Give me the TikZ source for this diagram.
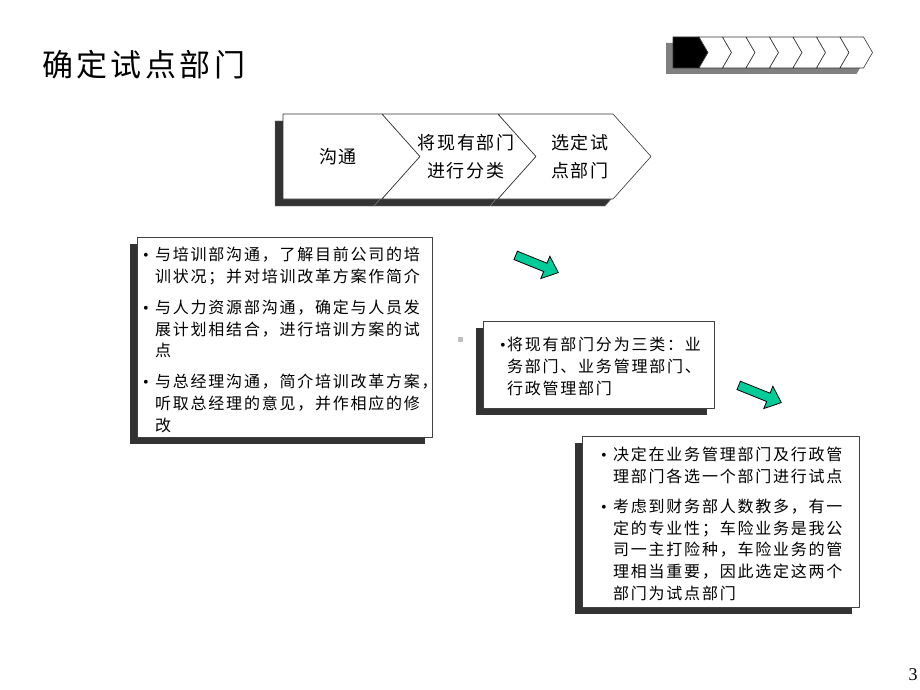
\documentclass[tikz,border=0pt]{standalone}
\usepackage{fontspec}
\setmainfont[LetterSpace=11]{Noto Sans CJK SC}
\newfontfamily\numfont{Liberation Serif}
\usetikzlibrary{shadows}

\definecolor{arrowgreen}{RGB}{0,204,153}
\definecolor{shadowgray}{RGB}{51,51,51}

\newcommand\bulitem{\makebox[12pt][l]{\numfont •}}
\newcommand\contline{\hspace*{12pt}}

\tikzset{
  textbox/.style={draw=black!75, fill=white, line width=0.8pt, anchor=north west, inner sep=0,
    drop shadow={shadow xshift=-7pt, shadow yshift=-7pt, fill=shadowgray, opacity=1}},
  boxtext/.style={anchor=north west, inner sep=0, align=left, font=\fontsize{16}{21.7}\selectfont},
  chevron/.style={draw=black!80, fill=white, line width=0.6pt},
  chevshadow/.style={draw=black!50, fill=shadowgray, line width=0.4pt},
  greenarrow/.style={draw=black, fill=arrowgreen, line width=0.8pt, line join=miter},
}

\begin{document}
\begin{tikzpicture}[line join=round,x=1pt,y=-1pt]
\useasboundingbox[fill=white] (0,0) rectangle (920,690);

% title
\node[anchor=west, inner sep=0, font=\fontsize{31}{36}\selectfont] (title) at (42,65) {确定试点部门};

% small progress bar, top right
\foreach \i in {0,...,7}
  \fill[black!50, shift={(-7,6)}] (673+23.5*\i,37) -- (699+23.5*\i,37) -- (708+23.5*\i,52.5)
    -- (699+23.5*\i,68) -- (673+23.5*\i,68) -- cycle;
\draw[fill=black, draw=black!80, line width=0.6pt] (673,37) -- (699,37) -- (708,52.5) -- (699,68) -- (673,68) -- cycle;
\foreach \i [evaluate=\i as \l using 699+23.5*(\i-1), evaluate=\i as \r using 699+23.5*\i] in {1,...,7}
  \draw[chevron] (\l,37) -- (\r,37) -- (\r+9,52.5) -- (\r,68) -- (\l,68) -- (\l+9,52.5) -- cycle;

% process bar
\begin{scope}[shift={(-8,7)}]
\draw[chevshadow] (283,114) -- (382,114) -- (420,156.5) -- (382,199) -- (283,199) -- cycle;
\draw[chevshadow] (382,114) -- (498,114) -- (536,156.5) -- (498,199) -- (382,199) -- (420,156.5) -- cycle;
\draw[chevshadow] (498,114) -- (613,114) -- (651,156.5) -- (613,199) -- (498,199) -- (536,156.5) -- cycle;
\end{scope}
\draw[chevron] (283,114) -- (382,114) -- (420,156.5) -- (382,199) -- (283,199) -- cycle;
\draw[chevron] (382,114) -- (498,114) -- (536,156.5) -- (498,199) -- (382,199) -- (420,156.5) -- cycle;
\draw[chevron] (498,114) -- (613,114) -- (651,156.5) -- (613,199) -- (498,199) -- (536,156.5) -- cycle;
\node[font=\fontsize{18}{28}\selectfont] (talk) at (338,157) {沟通};
\node[font=\fontsize{18}{28}\selectfont, align=center] (classify) at (466,157) {将现有部门\\进行分类};
\node[font=\fontsize{18}{28}\selectfont, align=center] (select) at (580,157) {选定试\\点部门};

% left box
\node[textbox, minimum width=295, minimum height=200] (trainbox) at (137,237) {};
\node[boxtext] (traintext) at (143,247) {%
\bulitem 与培训部沟通，了解目前公司的培\\
\contline 训状况；并对培训改革方案作简介\\[9.3pt]
\bulitem 与人力资源部沟通，确定与人员发\\
\contline 展计划相结合，进行培训方案的试\\
\contline 点\\[9.3pt]
\bulitem 与总经理沟通，简介培训改革方案，\\
\contline 听取总经理的意见，并作相应的修\\
\contline 改};

% middle box
\node[fill=black!25, minimum size=5, inner sep=0] (dot) at (460,339) {};
\node[textbox, minimum width=231, minimum height=87] (classbox) at (483,321) {};
\node[boxtext] (classtext) at (500,337) {%
\makebox[7pt][l]{\numfont •}将现有部门分为三类：业\\
\hspace*{7pt}务部门、业务管理部门、\\
\hspace*{7pt}行政管理部门};

% right box
\node[textbox, minimum width=277, minimum height=171] (pickbox) at (582,436) {};
\node[boxtext] (picktext) at (601,447) {%
\bulitem 决定在业务管理部门及行政管\\
\contline 理部门各选一个部门进行试点\\[8.3pt]
\bulitem 考虑到财务部人数教多，有一\\
\contline 定的专业性；车险业务是我公\\
\contline 司一主打险种，车险业务的管\\
\contline 理相当重要，因此选定这两个\\
\contline 部门为试点部门};

% green arrows
\draw[greenarrow, shift={(537,264)}, rotate=-22] (-23,-4.5) -- (9,-4.5) -- (9,-12) -- (23,0) -- (9,12) -- (9,4.5) -- (-23,4.5) -- cycle;
\draw[greenarrow, shift={(760,394)}, rotate=-22] (-23,-4.5) -- (9,-4.5) -- (9,-12) -- (23,0) -- (9,12) -- (9,4.5) -- (-23,4.5) -- cycle;

% page number
\node[font=\fontsize{18}{20}\selectfont] (pagenum) at (913,675) {\numfont 3};
\end{tikzpicture}
\end{document}
